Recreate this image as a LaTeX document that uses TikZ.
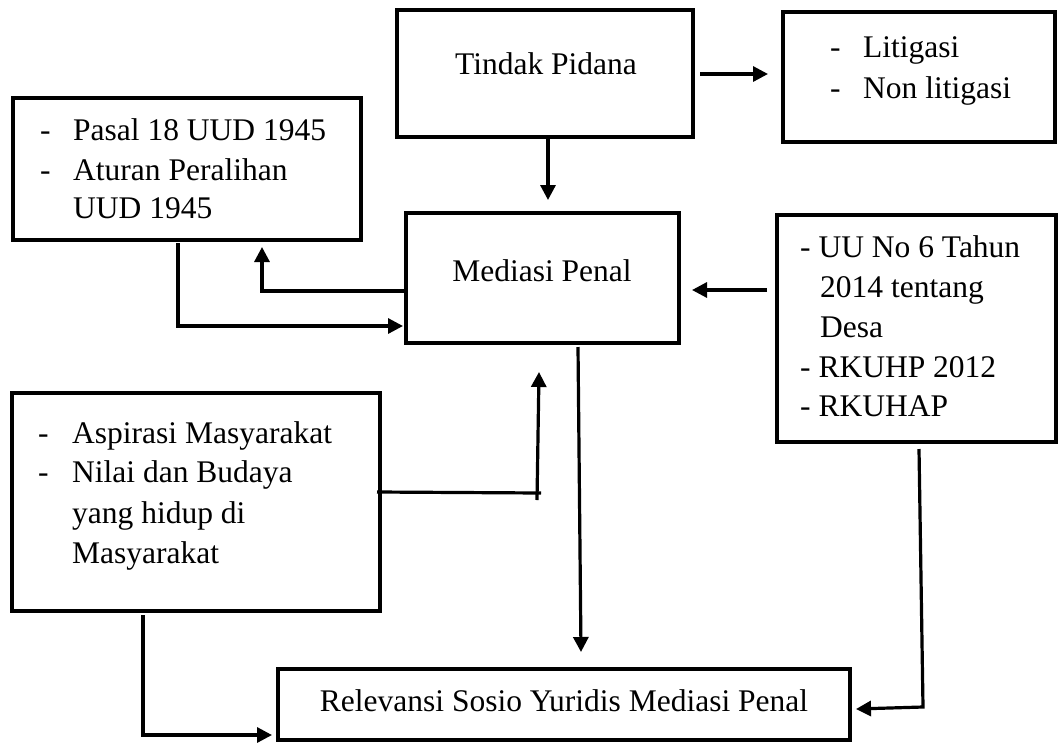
\documentclass[tikz,border=0pt]{standalone}
\usepackage{fontspec}
\setmainfont{Liberation Serif}
\usetikzlibrary{arrows.meta}
\tikzset{
  box/.style={draw, line width=3.6pt, anchor=north west, inner sep=0pt, outer sep=0pt},
  txt/.style={anchor=base west, inner sep=0pt, font=\fontsize{31.5}{40}\selectfont},
  ctxt/.style={anchor=base, inner sep=0pt, font=\fontsize{31.5}{40}\selectfont},
  ln/.style={line width=3.2pt},
  arr/.style={line width=3.2pt, -{Triangle[length=15pt,width=15pt]}}
}
\begin{document}
\begin{tikzpicture}[x=1pt,y=-1pt]
\useasboundingbox (0,0) rectangle (1059,742);
% boxes
\node[box, minimum width=296pt, minimum height=127pt] (tp) at (397,10) {};
\node[box, minimum width=272pt, minimum height=130pt] (lit) at (783,12) {};
\node[box, minimum width=348pt, minimum height=142pt] (pasal) at (13,98) {};
\node[box, minimum width=273pt, minimum height=130pt] (med) at (406,213) {};
\node[box, minimum width=279pt, minimum height=227pt] (uu) at (777,215) {};
\node[box, minimum width=368pt, minimum height=218pt] (asp) at (12,393) {};
\node[box, minimum width=572pt, minimum height=71pt] (rel) at (278,669) {};
% texts
\node[ctxt] (ttp) at (546,74) {Tindak Pidana};
\node[txt] (tl1d) at (830,57) {-};
\node[txt] (tl1) at (863,57) {Litigasi};
\node[txt] (tl2d) at (830,98) {-};
\node[txt] (tl2) at (863,98) {Non litigasi};
\node[txt] (tp1d) at (40,140) {-};
\node[txt] (tp1) at (73,140) {Pasal 18 UUD 1945};
\node[txt] (tp2d) at (40,180) {-};
\node[txt] (tp2) at (73,180) {Aturan Peralihan};
\node[txt] (tp3) at (73,218) {UUD 1945};
\node[ctxt] (tmed) at (542,281) {Mediasi Penal};
\node[txt] (tu1) at (800,257) {- UU No 6 Tahun};
\node[txt] (tu2) at (820,297) {2014 tentang};
\node[txt] (tu3) at (820,337) {Desa};
\node[txt] (tu4) at (800,377) {- RKUHP 2012};
\node[txt] (tu5) at (800,416) {- RKUHAP};
\node[txt] (ta1d) at (38,443) {-};
\node[txt] (ta1) at (72,443) {Aspirasi Masyarakat};
\node[txt] (ta2d) at (38,482) {-};
\node[txt] (ta2) at (72,482) {Nilai dan Budaya};
\node[txt] (ta3) at (72,523) {yang hidup di};
\node[txt] (ta4) at (72,563) {Masyarakat};
\node[ctxt] (trel) at (564,711) {Relevansi Sosio Yuridis Mediasi Penal};
% connectors
\draw[arr] ([xshift=7pt,yshift=-0.5pt]tp.east) -- ([xshift=-15pt,yshift=3pt]lit.west);
\draw[arr] ([xshift=151pt,yshift=-2pt]tp.south west) -- ([xshift=142pt,yshift=13pt]med.north west);
\draw[arr] ([yshift=-13pt]med.west) -| ([xshift=-99pt,yshift=-7pt]pasal.south east);
\draw[arr] ([xshift=165pt,yshift=-3pt]pasal.south west) |- ([xshift=-3pt,yshift=-48pt]med.west);
\draw[arr] ([xshift=-10pt,yshift=38.5pt]uu.west) -- ([xshift=13pt,yshift=-12pt]med.east);
\draw[ln] ([xshift=-3pt,yshift=10pt]asp.east) -- ([xshift=161pt,yshift=9pt]asp.east);
\draw[arr] ([xshift=157pt,yshift=2pt]asp.east) -- ([xshift=133pt,yshift=-29pt]med.south west);
\draw[arr] ([xshift=172pt,yshift=-4pt]med.south west) -- ([xshift=303pt,yshift=17pt]rel.north west);
\draw[arr] ([xshift=2.5pt,yshift=-7pt]uu.south) -- ([xshift=73pt,yshift=-2.5pt]rel.east) -- ([xshift=6pt,yshift=-4.5pt]rel.east);
\draw[arr] ([xshift=131pt,yshift=-4pt]asp.south west) |- ([xshift=-6pt,yshift=-30.5pt]rel.west);
\end{tikzpicture}
\end{document}
